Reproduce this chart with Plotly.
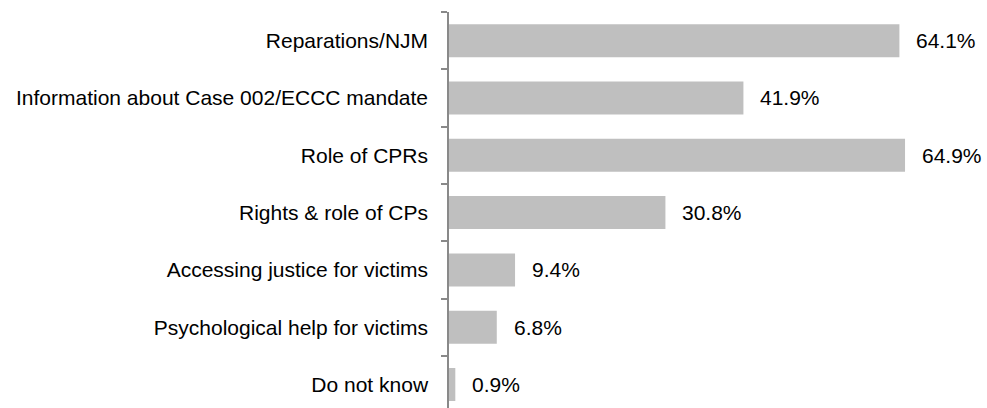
import plotly.graph_objects as go

categories = [
    "Reparations/NJM",
    "Information about Case 002/ECCC mandate",
    "Role of CPRs",
    "Rights & role of CPs",
    "Accessing justice for victims",
    "Psychological help for victims",
    "Do not know",
]
values = [64.1, 41.9, 64.9, 30.8, 9.4, 6.8, 0.9]
value_labels = [f"{v:.1f}%" for v in values]

FONT = "Liberation Sans, Arial, sans-serif"

fig = go.Figure()
fig.add_trace(go.Bar(
    x=values,
    y=categories,
    orientation="h",
    marker=dict(color="#BFBFBF", line=dict(width=0)),
    hoverinfo="skip",
))

for v, c, t in zip(values, categories, value_labels):
    fig.add_annotation(
        x=v, y=c, text=t, showarrow=False, xanchor="left", yanchor="middle",
        xshift=15, font=dict(family=FONT, size=21, color="#000000"),
    )

fig.update_layout(
    width=987, height=408,
    margin=dict(l=449, r=11, t=12, b=0, pad=0, autoexpand=False),
    paper_bgcolor="white", plot_bgcolor="white",
    bargap=0.424,
    showlegend=False,
    font=dict(family=FONT, size=21, color="#000000"),
)
fig.update_xaxes(visible=False, range=[0, 75], fixedrange=True, automargin=False)
fig.update_yaxes(
    type="category",
    categoryorder="array", categoryarray=categories,
    range=[6.41, -0.5],
    automargin=False,
    showline=True, linecolor="#898989", linewidth=1.5,
    ticks="outside", ticklen=6, tickcolor="#898989", tickwidth=1.5,
    tickson="boundaries",
    showgrid=False, zeroline=False,
    ticklabelstandoff=15,
    tickfont=dict(family=FONT, size=21, color="#000000"),
)

fig.write_html(
    "out.html",
    config={"displayModeBar": False},
    post_script="document.body.style.margin='0';document.body.style.overflow='hidden';",
)
